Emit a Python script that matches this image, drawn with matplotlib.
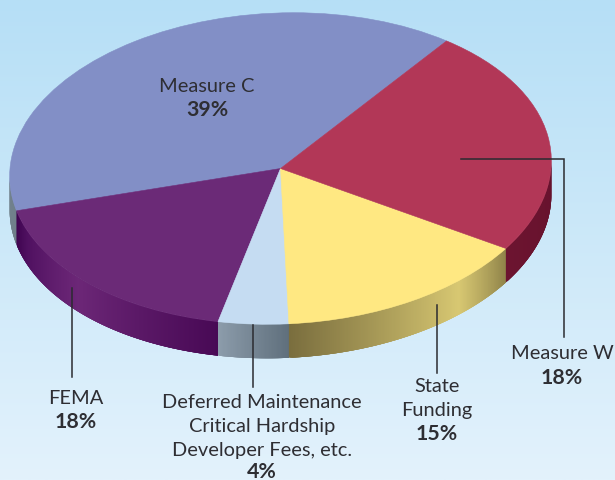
import numpy as np
import matplotlib
matplotlib.use('Agg')
import matplotlib.pyplot as plt
from matplotlib.collections import PolyCollection
from matplotlib.colors import to_rgb
from matplotlib.transforms import Affine2D

# slice sizes as drawn (the printed labels do not add up to 100)
names = ['Measure C', 'FEMA', 'Deferred', 'State Funding', 'Measure W']
values = [39.1, 17.7, 4.2, 15.15, 23.85]
colors = ['#828fc6', '#6b2a77', '#c5dcf2', '#ffe882', '#b23757']

# side shading per slice: position along the slice (0-1) and colour
side_stops = [
    ([0, 1], ['#97a5a8', '#6f7f8a']),
    ([0, 0.12, 0.45, 1], ['#3f0450', '#4f1060', '#6c2777', '#480955']),
    ([0, 1], ['#8c9cab', '#5f6f7c']),
    ([0, 0.72, 1], ['#7a6e3e', '#d8c872', '#8f8349']),
    ([0, 1], ['#6c1430', '#5e0e28']),
]

plt.rcParams['font.family'] = ['Lato', 'DejaVu Sans']

fig = plt.figure(figsize=(6.15, 4.8), dpi=100)
ax = fig.add_axes([0, 0, 1, 1])

# pie, then stretched into pixel space as a tilted ellipse
start = 50.8
wedges, _ = ax.pie(values, colors=colors, startangle=start, counterclock=True, radius=1)
tf = Affine2D().scale(271, -155.5).rotate_deg(-2.4).translate(280.5, 168.5)
for w in wedges:
    w.set_transform(tf + ax.transData)
    w.set_edgecolor(w.get_facecolor())
    w.set_linewidth(0.4)
    w.set_zorder(3)

# side of the disc, strips overlap each other so no seams show
depth = 34
edges = start + np.cumsum([0] + values) * 3.6
polys = []
cols = []
for i in range(len(values)):
    pos, hexes = side_stops[i]
    rgb = np.array([to_rgb(h) for h in hexes])
    a0, a1 = edges[i], edges[i + 1]
    for t in np.arange(a0, a1, 0.25):
        t2 = min(t + 1.0, a1)
        if t % 360 < 178.6 or t % 360 > 358.6:
            continue
        if t2 % 360 > 358.6:
            t2 = 358.6
        f = (t - a0) / (a1 - a0)
        c = [np.interp(f, pos, rgb[:, k]) for k in range(3)]
        arc = np.radians(np.linspace(t, t2, 5))
        p = tf.transform(np.column_stack([np.cos(arc), np.sin(arc)]))
        polys.append(np.vstack([p, p[::-1] + [0, depth]]))
        cols.append(c)
ax.add_collection(PolyCollection(polys, facecolors=cols, edgecolors='none', zorder=2))

# background gradient
grad = np.linspace(0, 1, 256).reshape(-1, 1)
bg = np.array(to_rgb('#b6dff6')) * (1 - grad[..., None]) + np.array(to_rgb('#e3f2fc')) * grad[..., None]
ax.imshow(bg, extent=[0, 615, 480, 0], aspect='auto', zorder=0)

ax.set_aspect('auto')
ax.set_xlim(0, 615)
ax.set_ylim(480, 0)
ax.axis('off')

# leader lines
line_col = '#2b2b30'
ax.plot([461, 564, 564], [159, 159, 337], color=line_col, lw=1.1, zorder=4, solid_joinstyle='miter')
ax.plot([72, 72], [288, 377], color=line_col, lw=1.1, zorder=4)
ax.plot([253, 253], [325, 387], color=line_col, lw=1.1, zorder=4)
ax.plot([437, 437], [305, 373], color=line_col, lw=1.1, zorder=4)

# labels
txt = '#2e2e33'


def lab(x, y, s, bold=False):
    ax.text(x, y + 1.5, s, ha='center', va='center', color=txt, fontsize=15.3 if bold else 14.4,
            fontweight='bold' if bold else 'normal', zorder=5)


lab(207, 85, 'Measure C')
lab(207, 109, '39%', True)
lab(76, 397, 'FEMA')
lab(76, 421, '18%', True)
lab(262, 401, 'Deferred Maintenance')
lab(262, 425, 'Critical Hardship')
lab(262, 449, 'Developer Fees, etc.')
lab(262, 470, '4%', True)
lab(437, 385, 'State')
lab(437, 409, 'Funding')
lab(437, 433, '15%', True)
lab(562, 352, 'Measure W')
lab(562, 376, '18%', True)

fig.savefig('out.png', dpi=100)
